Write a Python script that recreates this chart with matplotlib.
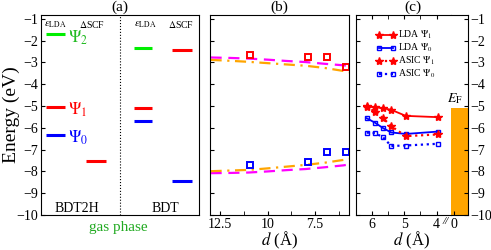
import matplotlib
matplotlib.use("Agg")
import matplotlib.pyplot as plt
from matplotlib.ticker import MultipleLocator, NullFormatter, FuncFormatter

plt.rcParams['font.family'] = ['Liberation Serif', 'DejaVu Serif']
plt.rcParams['mathtext.fontset'] = 'stix'

# ---------------- data ----------------
# panel (a): gas-phase levels (eV)
bdt2h_lda = {'psi2': -1.70, 'psi1': -5.02, 'psi0': -6.33}
bdt2h_dscf = {'psi1': -7.53}
bdt_lda = {'psi2': -2.32, 'psi1': -5.11, 'psi0': -5.68}
bdt_dscf = {'psi1': -2.44, 'psi0': -8.43}

# panel (b)
b_line_d = [13.0, 12.0, 11.0, 10.0, 9.0, 8.0, 7.0, 6.0, 5.72]
b_mag_up = [-2.77, -2.79, -2.82, -2.87, -2.93, -2.98, -3.06, -3.13, -3.16]
b_org_up = [-2.88, -2.92, -2.97, -3.03, -3.09, -3.15, -3.25, -3.39, -3.45]
b_mag_lo = [-8.08, -8.07, -8.05, -8.00, -7.94, -7.89, -7.81, -7.72, -7.68]
b_org_lo = [-7.99, -7.96, -7.93, -7.86, -7.78, -7.70, -7.60, -7.47, -7.42]
b_sq_d = [10.92, 7.9, 6.88, 5.88]
b_sq_red = [-2.65, -2.73, -2.77, -3.19]
b_sq_blue = [-7.71, -7.59, -7.09, -7.09]

# panel (c)
c_d = [6.15, 5.9, 5.65, 5.4, 4.95, 3.95]
lda_psi1 = [-5.02, -5.05, -5.10, -5.17, -5.45, -5.51]
lda_psi0 = [-5.56, -5.76, -6.01, -6.21, -6.28, -6.17]
asic_psi1 = [-4.99, -5.27, -5.55, -5.92, -6.38, -6.30]
asic_psi0 = [-6.22, -6.24, -6.43, -6.83, -6.81, -6.73]
fermi = -5.1

yticks = list(range(-10, 0))

fig = plt.figure(figsize=(4.91, 2.5), dpi=100)
bot = 35 / 250
hgt = 200 / 250
ylim = (-10, -0.82)

# ---------------- panel (a) ----------------
axa = fig.add_axes([41 / 491, bot, 158 / 491, hgt])
axa.set_xlim(0, 8)
axa.set_ylim(*ylim)
axa.set_xticks([])
axa.set_yticks(yticks)
axa.tick_params(axis='y', direction='in', length=3, labelsize=10, pad=2)
lw = 2.2
green = '#00ee00'
axa.hlines(bdt2h_lda['psi2'], 0.25, 1.2, color=green, lw=lw)
axa.hlines(bdt2h_lda['psi1'], 0.25, 1.2, color='red', lw=lw)
axa.hlines(bdt2h_lda['psi0'], 0.25, 1.2, color='blue', lw=lw)
axa.hlines(bdt2h_dscf['psi1'], 2.3, 3.3, color='red', lw=lw)
axa.hlines(bdt_lda['psi2'], 4.73, 5.63, color=green, lw=lw)
axa.hlines(bdt_lda['psi1'], 4.73, 5.63, color='red', lw=lw)
axa.hlines(bdt_lda['psi0'], 4.73, 5.63, color='blue', lw=lw)
axa.hlines(bdt_dscf['psi1'], 6.64, 7.65, color='red', lw=lw)
axa.hlines(bdt_dscf['psi0'], 6.64, 7.65, color='blue', lw=lw)
axa.axvline(4.0, color='black', ls=':', lw=0.8)
axa.text(0.72, -1.25, r'$\epsilon_{\rm LDA}$', ha='center', va='center', fontsize=8)
axa.text(2.57, -1.25, r'$\Delta$SCF', ha='center', va='center', fontsize=7)
axa.text(5.3, -1.25, r'$\epsilon_{\rm LDA}$', ha='center', va='center', fontsize=8)
axa.text(7.1, -1.25, r'$\Delta$SCF', ha='center', va='center', fontsize=7)
axa.text(1.35, -1.85, r'$\Psi_2$', color='#22bb22', ha='left', va='center', fontsize=12)
axa.text(1.35, -5.15, r'$\Psi_1$', color='red', ha='left', va='center', fontsize=12)
axa.text(1.35, -6.45, r'$\Psi_0$', color='blue', ha='left', va='center', fontsize=12)
axa.text(1.81, -9.72, 'BDT2H', ha='center', va='center', fontsize=10)
axa.text(6.29, -9.72, 'BDT', ha='center', va='center', fontsize=10)
axa.text(0.5, 1.04, '(a)', transform=axa.transAxes, ha='center', va='center', fontsize=11)
axa.set_ylabel('Energy (eV)', fontsize=14)
axa.yaxis.set_label_coords(-0.13, 0.5)
fig.text(118 / 491, 1 - 228 / 250, 'gas phase', color='#22aa22', ha='center', va='center', fontsize=11)

# ---------------- panel (b) ----------------
axb = fig.add_axes([210 / 491, bot, 139 / 491, hgt])
axb.set_xlim(13.03, 5.72)
axb.set_ylim(*ylim)
axb.set_yticks(yticks)
axb.yaxis.set_major_formatter(NullFormatter())
axb.xaxis.set_major_locator(MultipleLocator(2.5))
axb.xaxis.set_minor_locator(MultipleLocator(1.25))
axb.tick_params(axis='both', which='both', direction='in', length=3, labelsize=10, pad=2)
axb.xaxis.set_major_formatter(FuncFormatter(lambda v, p: ('%g' % v)))
axb.plot(b_line_d, b_mag_up, color='#ff00ff', ls=(0, (5, 3)), lw=1.6)
axb.plot(b_line_d, b_org_up, color='orange', ls=(0, (5, 2.5, 1, 2.5)), lw=1.6)
axb.plot(b_line_d, b_mag_lo, color='#ff00ff', ls=(0, (5, 3)), lw=1.6)
axb.plot(b_line_d, b_org_lo, color='orange', ls=(0, (5, 2.5, 1, 2.5)), lw=1.6)
axb.plot(b_sq_d, b_sq_red, ls='none', marker='s', ms=5, mfc='none', mec='red', mew=1.4)
axb.plot(b_sq_d, b_sq_blue, ls='none', marker='s', ms=5, mfc='none', mec='blue', mew=1.4)
axb.text(0.5, 1.04, '(b)', transform=axb.transAxes, ha='center', va='center', fontsize=11)
axb.set_xlabel(r'$d$ (Å)', fontsize=12)
axb.xaxis.set_label_coords(0.5, -0.075)

# ---------------- panel (c) ----------------
axc = fig.add_axes([356 / 491, bot, 95 / 491, hgt])
axc.set_xlim(6.48, 3.56)
axc.set_ylim(*ylim)
axc.set_yticks(yticks)
axc.yaxis.set_major_formatter(NullFormatter())
axc.xaxis.set_major_locator(MultipleLocator(1))
axc.xaxis.set_minor_locator(MultipleLocator(0.5))
axc.tick_params(axis='both', which='both', direction='in', length=3, labelsize=10,
                top=True, pad=2)
axc.spines['right'].set_visible(False)
axc.plot(c_d, lda_psi1, color='red', ls='-', lw=1.3, marker='*', ms=6, label=r'LDA $\Psi_1$')
axc.plot(c_d, lda_psi0, color='blue', ls='-', lw=1.3, marker='s', ms=3.5, mfc='none',
         label=r'LDA $\Psi_0$')
axc.plot(c_d, asic_psi1, color='red', ls=':', lw=1.6, marker='*', ms=6, label=r'ASIC $\Psi_1$')
axc.plot(c_d, asic_psi0, color='blue', ls=':', lw=1.6, marker='s', ms=3.5, mfc='none',
         label=r'ASIC $\Psi_0$')
axc.legend(loc='upper left', bbox_to_anchor=(0.2, 0.935), fontsize=7, frameon=False,
           handlelength=2.0, handletextpad=0.3, labelspacing=0.05, borderaxespad=0.0,
           borderpad=0.1, numpoints=2)
axc.text(0.6, 1.04, '(c)', transform=axc.transAxes, ha='center', va='center', fontsize=11)
axc.set_xlabel(r'$d$ (Å)', fontsize=12)
axc.xaxis.set_label_coords(0.58, -0.075)

axs = fig.add_axes([451 / 491, bot, 17 / 491, hgt])
axs.set_xlim(-0.2, 0.85)
axs.set_ylim(*ylim)
axs.fill_between([-0.2, 0.85], [fermi, fermi], [-10, -10], color='orange', lw=0)
axs.spines['left'].set_visible(False)
axs.set_xticks([0])
axs.set_yticks(yticks)
axs.yaxis.tick_right()
axs.tick_params(axis='y', direction='in', length=3, labelsize=10, pad=2, left=False)
axs.tick_params(axis='x', direction='in', length=3, labelsize=10, pad=2)
axs.text(0.05, fermi + 0.12, r'$E_{\rm F}$', ha='center', va='bottom', fontsize=10)
fig.text(446 / 491, 1 - 221 / 250, '//', ha='center', va='center', fontsize=8, style='italic')

fig.savefig('out.png', dpi=100)
